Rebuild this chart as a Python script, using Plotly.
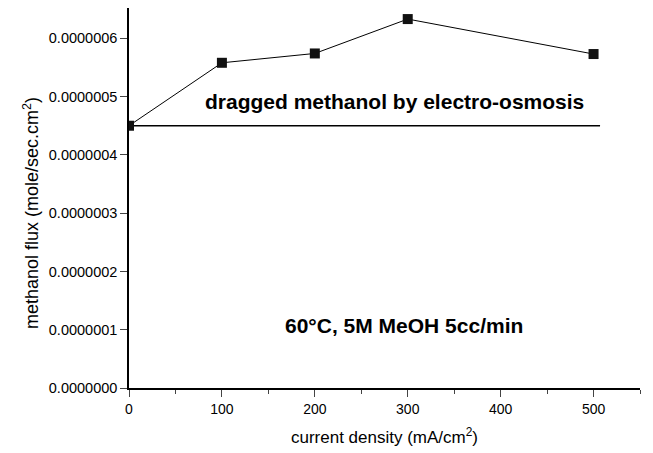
import plotly.graph_objects as go

current_density = [0, 100, 200, 300, 500]
methanol_flux = [0.450e-6, 0.558e-6, 0.574e-6, 0.633e-6, 0.573e-6]
eo_x = [0, 507]
eo_y = [0.450e-6, 0.450e-6]
y_ticks = [0, 1e-7, 2e-7, 3e-7, 4e-7, 5e-7, 6e-7]
y_ticklabels = ["0.0000000", "0.0000001", "0.0000002", "0.0000003",
                "0.0000004", "0.0000005", "0.0000006"]
x_ticks = [0, 100, 200, 300, 400, 500]

fig = go.Figure()
fig.add_trace(go.Scatter(x=eo_x, y=eo_y, mode="lines",
                         line=dict(color="black", width=1.3), showlegend=False))
fig.add_trace(go.Scatter(x=current_density, y=methanol_flux, mode="lines+markers",
                         line=dict(color="black", width=1),
                         marker=dict(symbol="square", size=10, color="#111"),
                         showlegend=False))

font = "Arial, Liberation Sans, sans-serif"
fig.update_layout(
    width=653, height=453,
    margin=dict(l=129, r=13, t=8, b=65),
    paper_bgcolor="white", plot_bgcolor="white",
    font=dict(family=font, color="black", size=14),
    xaxis=dict(range=[0, 550], tickvals=x_ticks, ticks="outside", ticklen=7,
               tickwidth=1.3, showline=True, linewidth=1.5, linecolor="black",
               showgrid=False, zeroline=False, tickfont=dict(size=14),
               minor=dict(dtick=50, tick0=0, ticks="outside", ticklen=4, tickwidth=1.2),
               title=dict(text="current density (mA/cm<sup>2</sup>)", font=dict(size=17), standoff=16)),
    yaxis=dict(range=[0, 0.652e-6], tickvals=y_ticks, ticktext=y_ticklabels,
               ticks="outside", ticklen=7, tickwidth=1.3, showline=True, linewidth=1.5,
               linecolor="black", showgrid=False, zeroline=False, tickfont=dict(size=14.5)),
    annotations=[
        dict(x=-0.192, y=0.46, xref="paper", yref="paper", showarrow=False,
             textangle=-90, xanchor="center", yanchor="middle",
             text="methanol flux (mole/sec.cm<sup>2</sup>)", font=dict(size=18)),
        dict(x=286, y=0.491e-6, xref="x", yref="y", showarrow=False,
             text="<b>dragged methanol by electro-osmosis</b>", font=dict(size=21)),
        dict(x=296, y=0.1068e-6, xref="x", yref="y", showarrow=False,
             text="<b>60°C, 5M MeOH 5cc/min</b>", font=dict(size=21)),
    ],
)
fig.write_html("out.html")
